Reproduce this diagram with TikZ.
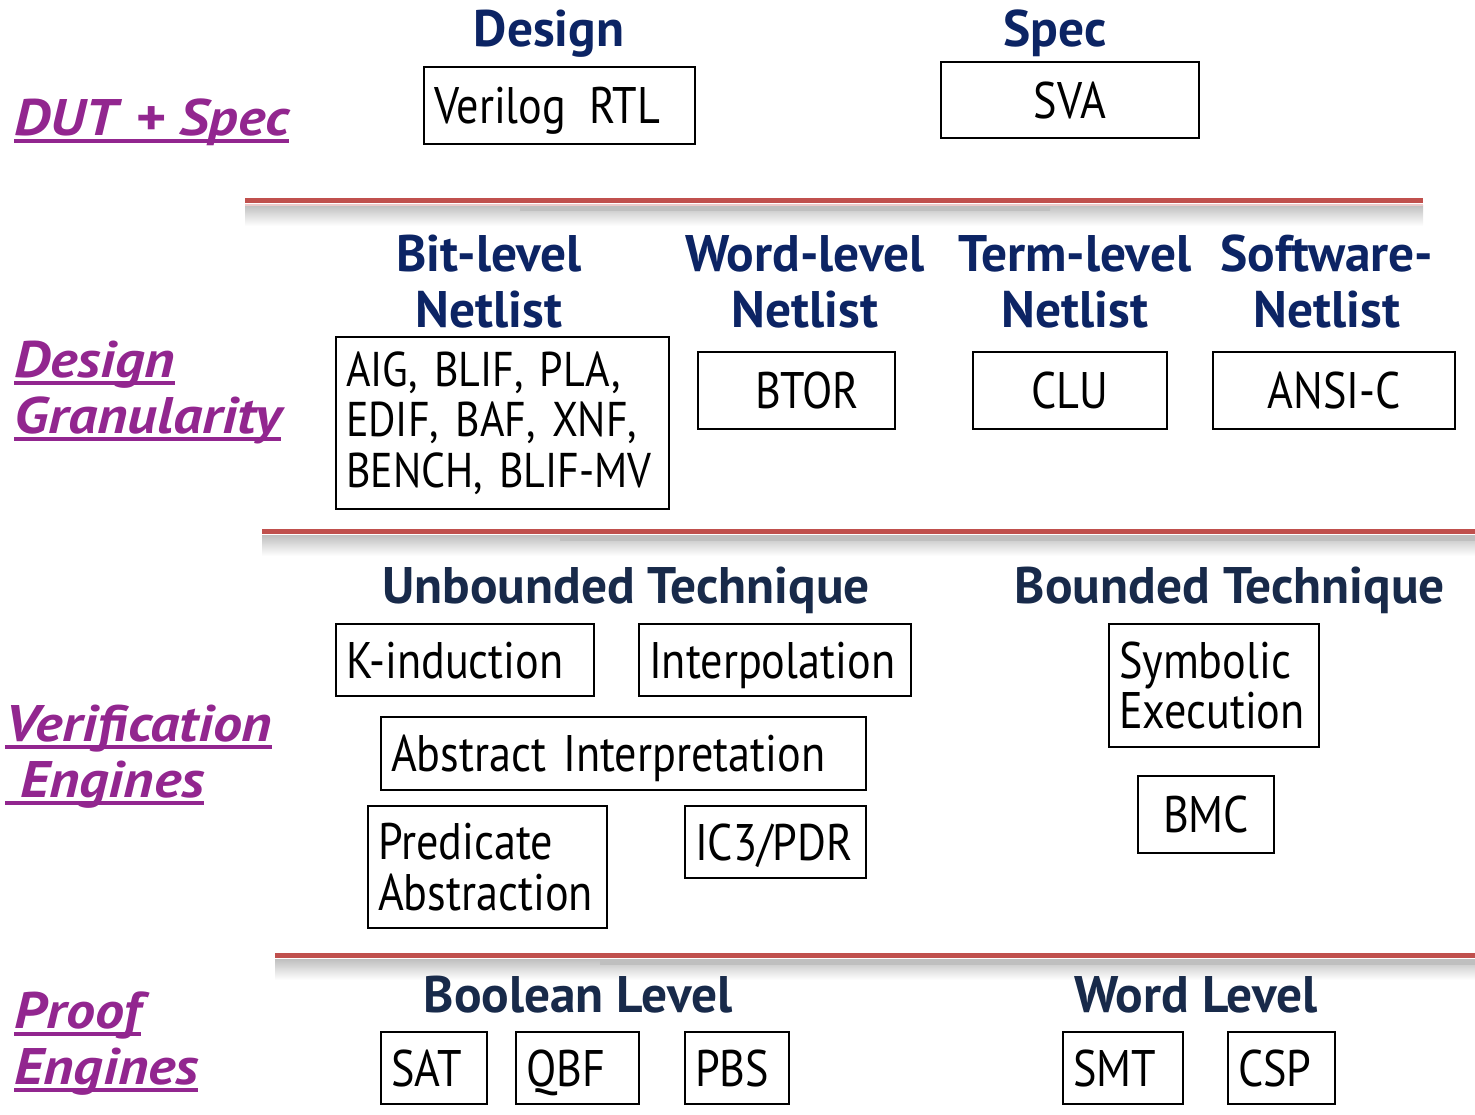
\documentclass[tikz,border=0pt]{standalone}
\usepackage{fontspec}
\setmainfont{PT Sans}[FakeStretch=0.86, WordSpace=1.5]
\newfontfamily\fontetitulo{PT Sans}[FakeStretch=1.0]
\newfontfamily\fonterotulo{PT Sans}[FakeStretch=1.13]
\usepackage{tikz}

\definecolor{azulescuro}{RGB}{12,36,100}
\definecolor{azulnoite}{RGB}{24,42,74}
\definecolor{roxo}{RGB}{146,38,143}
\definecolor{vermelho}{RGB}{192,80,77}
\newcommand{\sublinha}[1]{\setbox0\hbox{#1}\rlap{\rule[-4pt]{\wd0}{2.2pt}}\box0}

\begin{document}
\begin{tikzpicture}[x=0.5pt, y=-0.5pt]
    \tikzstyle{caixa}=[draw, line width=1pt, inner xsep=5pt, inner ysep=0pt, anchor=north west, align=left, font=\fontsize{25.7}{25.3}\selectfont]
    \tikzstyle{simples}=[caixa, text height=18pt, text depth=0pt]
    \tikzstyle{titulo}=[anchor=base, align=center, text=azulescuro, font=\fontetitulo\bfseries\fontsize{25.7}{28}\selectfont]
    \tikzstyle{tecnica}=[anchor=base, text=azulnoite, font=\fontetitulo\bfseries\fontsize{25.7}{28}\selectfont]
    \tikzstyle{camada}=[anchor=base west, align=left, inner xsep=0pt, text=roxo, font=\fonterotulo\bfseries\itshape\fontsize{25.7}{28}\selectfont]
    \tikzstyle{linhavermelha}=[vermelho, line width=2.5pt]
    \tikzstyle{sombra}=[top color=black!25, bottom color=white]
    \tikzstyle{traco}=[left color=black!25, middle color=black!80, right color=black!25]

    \useasboundingbox (0,0) rectangle (1475,1114);

        % Separadores
        \shade[sombra] (245,205) rectangle (1423,226);
        \shade[traco] (520,205) rectangle (1050,210);
        \draw[linhavermelha] (245,200) -- (1423,200);
        \draw[vermelho!30, line width=0.6pt] (245,205) -- (1423,205);

        \shade[sombra] (262,535) rectangle (1475,556);
        \shade[traco] (560,535) rectangle (1475,540);
        \draw[linhavermelha] (262,531) -- (1475,531);

        \shade[sombra] (275,959) rectangle (1475,980);
        \shade[traco] (600,959) rectangle (1475,964);
        \draw[linhavermelha] (275,955) -- (1475,955);

        % Camadas
        \node[camada] (dut) at (14,135) {\sublinha{DUT\hspace{9pt}+ Spec}};
        \node[camada] (gran) at (14,433) {\sublinha{Design}\\\sublinha{Granularity}};
        \node[camada] (verif) at (5,797) {\sublinha{Verification}\\\sublinha{\ Engines}};
        \node[camada] (prova) at (14,1084) {\sublinha{Proof}\\\sublinha{Engines}};

        % DUT + Spec
        \node[titulo] (tdesign) at (549,46) {Design};
        \node[titulo] (tspec) at (1055,46) {Spec};
        \node[simples, text width=125.5pt, minimum height=38.5pt] (rtl) at (423,66) {Verilog\hspace{3pt} RTL};
        \node[simples, text width=119pt, minimum height=38pt, align=center] (sva) at (940,61) {SVA};

        % Granularidade
        \node[titulo] (tbit) at (489,327) {Bit-level\\Netlist};
        \node[titulo] (tword) at (805,327) {Word-level\\Netlist};
        \node[titulo] (tterm) at (1075,327) {Term-level\\Netlist};
        \node[titulo] (tsoft) at (1327,327) {Software-\\Netlist};
        \node[caixa, text width=156.5pt, minimum height=86pt, font=\fontsize{24.4}{25.3}\selectfont] (bit) at (335,336) {\mbox{AIG, BLIF, PLA,}\\\mbox{EDIF, BAF, XNF,}\\\mbox{BENCH, BLIF-MV}};
        \node[simples, text width=88.5pt, minimum height=38.5pt, align=center] (btor) at (697,351) {\hspace{11pt}BTOR};
        \node[simples, text width=87pt, minimum height=38.5pt, align=center] (clu) at (972,351) {CLU};
        \node[simples, text width=111pt, minimum height=38.5pt, align=center] (ansi) at (1212,351) {ANSI-C};

        % Motores de verificacao
        \node[tecnica] (tunb) at (626,603) {Unbounded Technique};
        \node[tecnica] (tbnd) at (1230,603) {Bounded Technique};
        \node[simples, text width=119pt, minimum height=36pt] (kind) at (335,623) {K-induction};
        \node[simples, text width=126pt, minimum height=36pt] (interp) at (638,623) {Interpolation};
        \node[simples, text width=232.5pt, minimum height=36.5pt] (absint) at (380,716) {Abstract Interpretation};
        \node[caixa, text width=109.5pt, minimum height=61pt] (pred) at (367,805) {Predicate\\Abstraction};
        \node[simples, text width=80.5pt, minimum height=36pt] (ic3) at (684,805) {IC3/PDR};
        \node[caixa, text width=95pt, minimum height=61.5pt] (symb) at (1108,623) {Symbolic\\Execution};
        \node[simples, text width=58pt, minimum height=38.5pt, align=center] (bmc) at (1137,775) {BMC};

        % Motores de prova
        \node[tecnica] (tbool) at (578,1012) {Boolean Level};
        \node[tecnica] (twl) at (1196,1012) {Word Level};
        \node[simples, text width=43pt, minimum height=36pt] (sat) at (380,1031) {SAT};
        \node[simples, text width=51.5pt, minimum height=36pt] (qbf) at (515,1031) {QBF};
        \node[simples, text width=42pt, minimum height=36pt] (pbs) at (684,1031) {PBS};
        \node[simples, text width=50pt, minimum height=36pt] (smt) at (1062,1031) {SMT};
        \node[simples, text width=43.5pt, minimum height=36pt] (csp) at (1227,1031) {CSP};
\end{tikzpicture}
\end{document}
